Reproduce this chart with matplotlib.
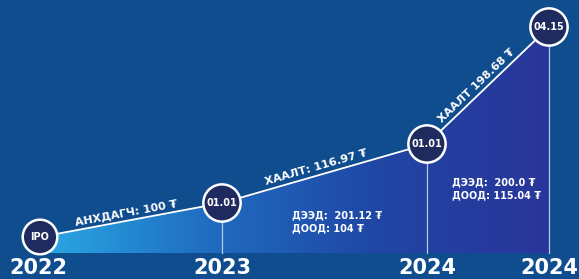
import math
import numpy as np
import matplotlib
matplotlib.use("Agg")
import matplotlib.pyplot as plt
from matplotlib.colors import LinearSegmentedColormap
from matplotlib.patches import Polygon

# timeline points (pixel-like layout units)
point_x = [40, 222, 427, 549]
point_y = [42, 76, 135, 252]
point_labels = ["IPO", "01.01", "01.01", "04.15"]
years = ["2022", "2023", "2024", "2024"]
segment_labels = ["АНХДАГЧ: 100 ₮", "ХААЛТ: 116.97 ₮", "ХААЛТ 198.68 ₮"]
range_labels = ["ДЭЭД:  201.12 ₮\nДООД: 104 ₮", "ДЭЭД:  200.0 ₮\nДООД: 115.04 ₮"]
range_pos = [(292, 57), (452, 90)]
base = 26

bg = "#0f4d8f"
fig = plt.figure(figsize=(5.79, 2.79), dpi=100, facecolor=bg)
ax = fig.add_axes([0, 0, 1, 1])
ax.set_xlim(0, 579)
ax.set_ylim(0, 279)
ax.set_facecolor(bg)
ax.axis("off")

# gradient area under the line
poly = [(point_x[0], base)] + list(zip(point_x, point_y)) + [(point_x[-1], base)]
patch = Polygon(poly, closed=True, facecolor="none", edgecolor="none")
ax.add_patch(patch)
cmap = LinearSegmentedColormap.from_list("g", ["#2aa8e4", "#1f6cc0", "#2046a4", "#2a359a"])
grad = np.linspace(0, 1, 256).reshape(1, -1)
im = ax.imshow(grad, cmap=cmap, aspect="auto", origin="lower",
               extent=(point_x[0], point_x[-1], base, point_y[-1]), zorder=1)
im.set_clip_path(patch)

# line
ax.plot(point_x, point_y, color="white", lw=1.3, zorder=3)

# vertical drop lines
for x, y in zip(point_x[1:], point_y[1:]):
    ax.plot([x, x], [base, y], color="#b8c8ea", lw=0.9, zorder=2)

# circles
ax.scatter(point_x, point_y, s=[620, 720, 720, 720], color="#1f2a5e",
           edgecolors="white", linewidths=1.8, zorder=4)
for x, y, t in zip(point_x, point_y, point_labels):
    ax.text(x, y, t, color="white", fontsize=7, fontweight="bold",
            ha="center", va="center", zorder=5)

# labels along segments
offsets = [0.48, 0.47, 0.45]
for i, t in enumerate(segment_labels):
    x0, y0, x1, y1 = point_x[i], point_y[i], point_x[i + 1], point_y[i + 1]
    ang = math.degrees(math.atan2(y1 - y0, x1 - x0))
    f = offsets[i]
    mx = x0 + f * (x1 - x0)
    my = y0 + f * (y1 - y0)
    nx = -math.sin(math.radians(ang)) * 3
    ny = math.cos(math.radians(ang)) * 3
    ax.text(mx + nx, my + ny, t, color="white", fontsize=8, fontweight="bold",
            rotation=ang, rotation_mode="anchor", ha="center", va="bottom", zorder=5)

# high / low labels
for (x, y), t in zip(range_pos, range_labels):
    ax.text(x, y, t, color="white", fontsize=7, fontweight="bold",
            ha="left", va="center", linespacing=1.4, zorder=5)

# year labels
year_x = [38, 222, 427, 549]
for x, t in zip(year_x, years):
    ax.text(x, 11, t, color="white", fontsize=15, fontweight="bold",
            ha="center", va="center", zorder=5)

fig.savefig("out.png", dpi=100, facecolor=bg)
